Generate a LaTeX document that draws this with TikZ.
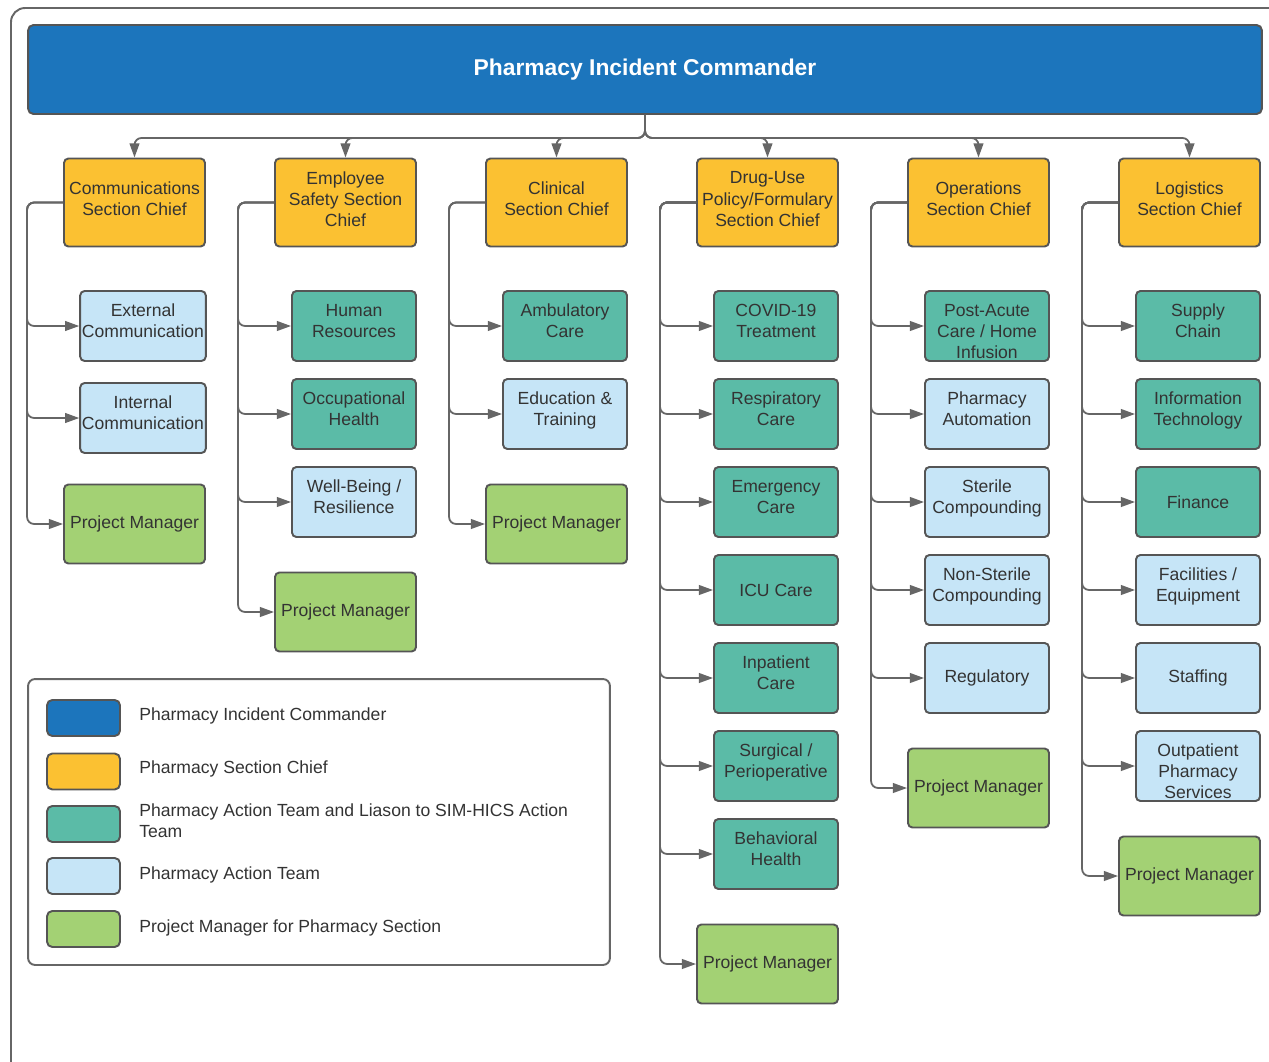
\documentclass[tikz,border=0pt]{standalone}
\usepackage{fontspec}
\setmainfont{Liberation Sans}
\usetikzlibrary{arrows.meta}
\definecolor{icblue}{HTML}{1C75BC}
\definecolor{chiefyel}{HTML}{FBC132}
\definecolor{tealbox}{HTML}{5BBBA7}
\definecolor{lightbox}{HTML}{C6E5F7}
\definecolor{pmgreen}{HTML}{A3D174}
\definecolor{edgegray}{HTML}{555555}
\definecolor{linegray}{HTML}{666666}
\definecolor{txtgray}{HTML}{333333}
\tikzset{
  box/.style={draw=edgegray, line width=1.1pt, rounded corners=2.5pt, align=center,
    text=txtgray, inner sep=1pt, font=\fontsize{10}{12}\selectfont},
  chief/.style={box, fill=chiefyel, minimum width=2.82cm, minimum height=1.76cm, text depth=4pt},
  act/.style={box, minimum width=2.48cm, minimum height=1.40cm},
  liaison/.style={act, fill=tealbox},
  team/.style={act, fill=lightbox},
  twoline/.style={text depth=6pt},
  threeline/.style={text height=37pt, text depth=0pt},
  pm/.style={box, fill=pmgreen, minimum width=2.82cm, minimum height=1.58cm},
  conn/.style={draw=linegray, line width=1pt, rounded corners=4pt,
    -{Triangle[length=8pt,width=5.5pt]}},
  swatch/.style={draw=edgegray, line width=1.1pt, rounded corners=3pt,
    minimum width=1.46cm, minimum height=0.72cm, inner sep=0pt},
  legtext/.style={anchor=west, inner sep=0pt, align=left, text=txtgray,
    font=\fontsize{10}{12}\selectfont},
}
\begin{document}
\begin{tikzpicture}[x=0.02cm, y=-0.02cm]
\useasboundingbox (0,0) rectangle (1269,1062);
\fill[white] (0,0) rectangle (1269,1062);
% outer frame (cropped)
\begin{scope}
\clip (0,0) rectangle (1269,1062);
\draw[draw=linegray, line width=1.1pt, rounded corners=8pt] (11,1120) -- (11,8) -- (1320,8);
\end{scope}

% commander
\node[draw=edgegray, line width=1.1pt, rounded corners=3pt, fill=icblue,
  minimum width=24.68cm, minimum height=1.78cm, text=white,
  font=\fontsize{13}{15}\selectfont\bfseries] (ic) at (645,69.5) {Pharmacy Incident Commander};

% section chiefs
\node[chief] (c1) at (134.5,202.5) {Communications\\Section Chief};
\node[chief] (c2) at (345.5,202.5) {Employee\\Safety Section\\Chief};
\node[chief] (c3) at (556.5,202.5) {Clinical\\Section Chief};
\node[chief] (c4) at (767.5,202.5) {Drug-Use\\Policy/Formulary\\Section Chief};
\node[chief] (c5) at (978.5,202.5) {Operations\\Section Chief};
\node[chief] (c6) at (1189.5,202.5) {Logistics\\Section Chief};

\foreach \c in {c1,c2,c3,c4,c5,c6}
  \draw[conn] (ic.south) -- ++(0,-0.46cm) -| (\c.north);

% column 1
\node[team, twoline] (a11) at (143,326) {External\\Communication};
\node[team, twoline] (a12) at (143,418) {Internal\\Communication};
\node[pm] (p1) at (134.5,524) {Project Manager};
% column 2
\node[liaison, twoline] (a21) at (354,326) {Human\\Resources};
\node[liaison, twoline] (a22) at (354,414) {Occupational\\Health};
\node[team, twoline] (a23) at (354,502) {Well-Being /\\Resilience};
\node[pm] (p2) at (345.5,612) {Project Manager};
% column 3
\node[liaison, twoline] (a31) at (565,326) {Ambulatory\\Care};
\node[team, twoline] (a32) at (565,414) {Education \&\\Training};
\node[pm] (p3) at (556.5,524) {Project Manager};
% column 4
\node[liaison, twoline] (a41) at (776,326) {COVID-19\\Treatment};
\node[liaison, twoline] (a42) at (776,414) {Respiratory\\Care};
\node[liaison, twoline] (a43) at (776,502) {Emergency\\Care};
\node[liaison] (a44) at (776,590) {ICU Care};
\node[liaison, twoline] (a45) at (776,678) {Inpatient\\Care};
\node[liaison, twoline] (a46) at (776,766) {Surgical /\\Perioperative};
\node[liaison, twoline] (a47) at (776,854) {Behavioral\\Health};
\node[pm] (p4) at (767.5,964) {Project Manager};
% column 5
\node[liaison, threeline] (a51) at (987,326) {Post-Acute\\Care / Home\\Infusion};
\node[team, twoline] (a52) at (987,414) {Pharmacy\\Automation};
\node[team, twoline] (a53) at (987,502) {Sterile\\Compounding};
\node[team, twoline] (a54) at (987,590) {Non-Sterile\\Compounding};
\node[team] (a55) at (987,678) {Regulatory};
\node[pm] (p5) at (978.5,788) {Project Manager};
% column 6
\node[liaison, twoline] (a61) at (1198,326) {Supply\\Chain};
\node[liaison, twoline] (a62) at (1198,414) {Information\\Technology};
\node[liaison] (a63) at (1198,502) {Finance};
\node[team, twoline] (a64) at (1198,590) {Facilities /\\Equipment};
\node[team] (a65) at (1198,678) {Staffing};
\node[team, threeline] (a66) at (1198,766) {Outpatient\\Pharmacy\\Services};
\node[pm] (p6) at (1189.5,876) {Project Manager};

% branch connectors
\foreach \t in {a11,a12,p1} \draw[conn] (c1.west) -- ++(-0.72cm,0) |- (\t.west);
\foreach \t in {a21,a22,a23,p2} \draw[conn] (c2.west) -- ++(-0.72cm,0) |- (\t.west);
\foreach \t in {a31,a32,p3} \draw[conn] (c3.west) -- ++(-0.72cm,0) |- (\t.west);
\foreach \t in {a41,a42,a43,a44,a45,a46,a47,p4} \draw[conn] (c4.west) -- ++(-0.72cm,0) |- (\t.west);
\foreach \t in {a51,a52,a53,a54,a55,p5} \draw[conn] (c5.west) -- ++(-0.72cm,0) |- (\t.west);
\foreach \t in {a61,a62,a63,a64,a65,a66,p6} \draw[conn] (c6.west) -- ++(-0.72cm,0) |- (\t.west);

% legend
\node[draw=linegray, line width=1.1pt, rounded corners=4pt, minimum width=11.64cm,
  minimum height=5.72cm, inner sep=0pt] (legend) at (319,822) {};
\node[swatch, fill=icblue] (s1) at (83.5,718) {};
\node[swatch, fill=chiefyel] (s2) at (83.5,771.5) {};
\node[swatch, fill=tealbox] (s3) at (83.5,824) {};
\node[swatch, fill=lightbox] (s4) at (83.5,876) {};
\node[swatch, fill=pmgreen] (s5) at (83.5,929) {};
\node[legtext] (l1) at (139,716) {Pharmacy Incident Commander};
\node[legtext] (l2) at (139,769) {Pharmacy Section Chief};
\node[legtext] (l3) at (139,821) {Pharmacy Action Team and Liason to SIM-HICS Action\\Team};
\node[legtext] (l4) at (139,875) {Pharmacy Action Team};
\node[legtext] (l5) at (139,928) {Project Manager for Pharmacy Section};
\end{tikzpicture}
\end{document}
